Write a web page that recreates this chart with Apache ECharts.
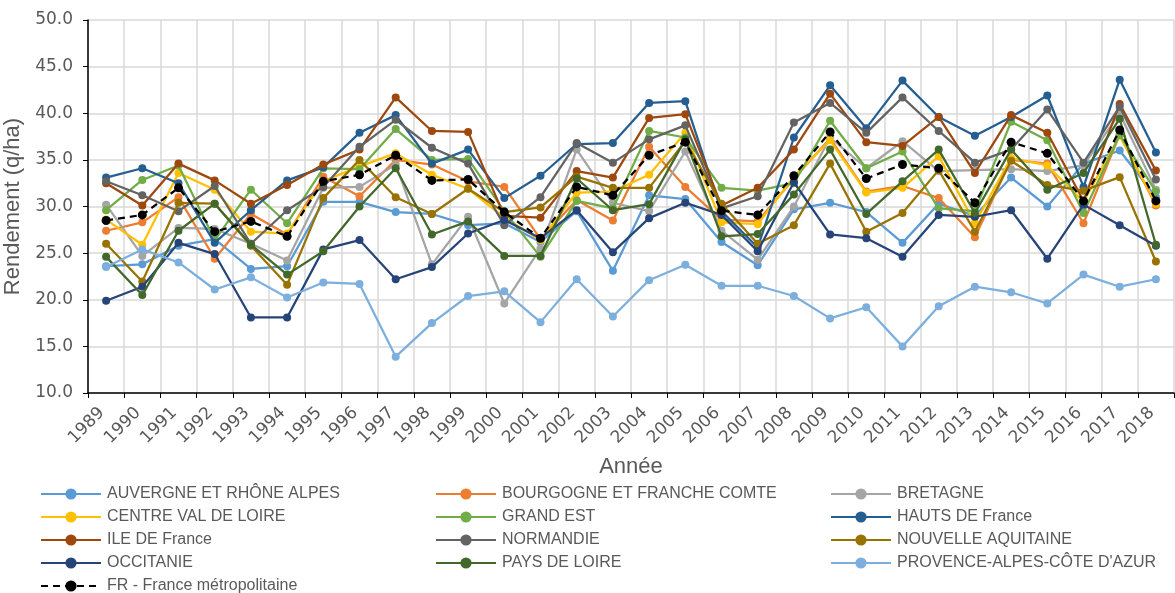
<!DOCTYPE html>
<html><head><meta charset="utf-8">
<script src="https://cdn.jsdelivr.net/npm/echarts@6/dist/echarts.min.js"></script>
<style>html,body{margin:0;padding:0;background:#fff}#c{width:1175px;height:593px}</style>
</head><body><div id="c"></div>
<script>
const years = ['1989','1990','1991','1992','1993','1994','1995','1996','1997','1998','1999','2000','2001','2002','2003','2004','2005','2006','2007','2008','2009','2010','2011','2012','2013','2014','2015','2016','2017','2018'];
const auvergne = [23.6,23.8,25.8,26.5,23.3,23.6,30.5,30.5,29.4,29.2,28.0,28.2,26.2,29.5,23.1,31.2,30.8,26.2,23.7,29.7,30.4,29.4,26.1,30.3,29.0,33.1,30.0,34.6,36.0,31.0];
const bourgogne = [27.4,28.3,31.0,24.4,29.2,27.0,33.2,31.1,35.0,34.5,32.7,32.1,26.5,30.7,28.5,36.4,32.1,28.6,28.4,33.0,37.3,31.6,32.2,30.9,26.7,35.0,34.6,28.2,37.7,30.1];
const bretagne = [30.2,24.7,27.7,27.6,26.0,24.2,32.0,32.1,34.5,23.8,28.9,19.6,25.5,36.1,30.4,29.5,35.9,27.4,24.3,30.0,37.4,34.1,37.0,33.8,33.9,34.0,33.8,34.4,40.0,31.8];
const centre = [28.6,25.9,33.6,31.8,27.3,27.1,32.7,34.3,35.7,33.4,31.9,28.8,26.4,31.5,31.6,33.4,37.9,28.3,28.1,33.2,37.1,31.5,32.0,35.4,28.2,35.2,34.4,30.5,37.6,30.3];
const grandEst = [29.6,32.85,34.4,26.4,31.8,28.2,34.1,34.0,38.3,35.0,35.1,29.5,24.6,30.6,29.8,38.1,37.4,32.0,31.7,32.5,39.2,34.1,35.9,29.8,29.5,39.1,37.1,29.3,37.7,31.6];
const hauts = [33.1,34.1,32.5,26.1,29.6,32.8,34.2,37.9,39.8,34.6,36.1,30.9,33.3,36.7,36.8,41.1,41.3,29.5,25.6,37.4,43.0,38.4,43.5,39.6,37.6,39.6,41.9,32.1,43.6,35.8];
const ile = [32.5,30.1,34.6,32.8,30.3,32.3,34.5,36.1,41.7,38.1,38.0,29.0,28.8,33.8,33.1,39.5,39.9,30.1,32.0,36.1,42.1,36.9,36.5,39.6,33.6,39.8,37.9,30.6,41.0,33.85];
const normandie = [32.7,31.2,29.5,32.2,26.0,29.6,32.1,36.4,39.3,36.3,34.6,28.0,31.0,36.8,34.7,37.2,38.7,29.8,31.1,39.0,41.1,37.9,41.7,38.1,34.7,36.1,40.4,34.7,40.7,32.9];
const nouvelle = [26.0,21.95,30.4,30.3,25.8,21.6,30.9,35.0,31.0,29.2,31.9,29.4,29.9,33.2,32.0,32.0,37.0,30.3,26.0,28.0,34.6,27.3,29.3,33.9,27.3,34.9,32.3,31.7,33.15,24.1];
const occitanie = [19.9,21.4,26.1,24.9,18.1,18.1,25.4,26.4,22.2,23.5,27.1,28.55,26.6,29.6,25.1,28.75,30.4,29.1,25.2,32.6,27.0,26.6,24.6,29.1,28.9,29.6,24.4,30.2,28.0,25.8];
const paysLoire = [24.6,20.5,27.4,30.3,25.9,22.7,25.2,30.0,34.1,27.0,28.4,24.7,24.7,33.0,29.6,30.25,37.2,26.8,27.05,31.3,36.1,29.2,32.7,36.1,29.3,36.1,31.8,33.6,39.4,25.9];
const provence = [23.5,25.4,24.0,21.1,22.4,20.25,21.85,21.7,13.9,17.5,20.4,20.9,17.6,22.2,18.2,22.1,23.75,21.5,21.5,20.4,18.0,19.2,15.0,19.3,21.4,20.8,19.6,22.7,21.4,22.2];
const france = [28.5,29.1,32.0,27.3,28.4,26.8,32.7,33.4,35.5,32.8,32.9,29.4,26.6,32.1,31.2,35.5,36.9,29.55,29.1,33.3,38.0,33.0,34.5,34.1,30.4,36.9,35.7,30.6,38.2,30.6];

const names = ['AUVERGNE ET RHÔNE ALPES','BOURGOGNE ET FRANCHE COMTE','BRETAGNE','CENTRE VAL DE LOIRE','GRAND EST','HAUTS DE France','ILE DE France','NORMANDIE','NOUVELLE AQUITAINE','OCCITANIE','PAYS DE LOIRE','PROVENCE-ALPES-CÔTE D\'AZUR','FR - France métropolitaine'];
const datas = [auvergne,bourgogne,bretagne,centre,grandEst,hauts,ile,normandie,nouvelle,occitanie,paysLoire,provence,france];
const colors = ['#5B9BD5','#ED7D31','#A5A5A5','#FFC000','#70AD47','#255E91','#9E480E','#636363','#997300','#264478','#43682B','#7CAFDD','#000000'];

const series = names.map((n,i)=>({
  name:n, type:'line', data:datas[i], symbol:'circle', symbolSize: i===12?9:8,
  lineStyle:{color:colors[i], width:2.25, type: i===12?[7,5]:'solid'},
  itemStyle:{color:colors[i]}, z: 2+i, animation:false
}));

const txt = '#595959';
const font = 'Liberation Sans, Arial, sans-serif';
const numFont = 'DejaVu Sans, sans-serif';
function leg(items, left, top){
  return {data:items, orient:'vertical', left:left, top:top, itemGap:7, itemWidth:60, itemHeight:14,
    textStyle:{color:txt, fontSize:16, fontFamily:font, padding:[0,0,0,1]}, selectedMode:false, padding:0};
}
const option = {
  animation:false,
  color: colors,
  grid:{left:88, right:1, top:20, bottom:200, containLabel:false, outerBoundsMode:'none'},
  xAxis:{type:'category', data:years, boundaryGap:true,
    name:'Année', nameLocation:'middle', nameGap:63, nameTextStyle:{color:txt, fontSize:22, fontFamily:font},
    axisLine:{lineStyle:{color:'#000', width:1.5}},
    axisTick:{show:true, alignWithLabel:false, length:5, lineStyle:{color:'#000'}},
    axisLabel:{rotate:45, color:txt, fontSize:17, fontFamily:numFont, margin:13, interval:0, padding:[0,6,0,0]},
    splitLine:{show:true, interval:0, lineStyle:{color:'#d9d9d9', width:1.5}}},
  yAxis:{type:'value', min:10, max:50, interval:5,
    name:'Rendement (q/ha)', nameLocation:'middle', nameGap:50, nameTextStyle:{color:txt, fontSize:22, fontFamily:font},
    axisLine:{show:true, lineStyle:{color:'#000', width:1.5}},
    axisTick:{show:true, length:5, lineStyle:{color:'#000'}},
    axisLabel:{color:txt, fontSize:17, fontFamily:numFont, formatter:v=>v.toFixed(1), margin:15},
    splitLine:{show:true, lineStyle:{color:'#d9d9d9', width:1.5}}},
  legend:[
    leg([names[0],names[3],names[6],names[9]], 40, 486),
    leg([names[12]], 40, 578),
    leg([names[1],names[4],names[7],names[10]], 435, 486),
    leg([names[2],names[5],names[8],names[11]], 830, 486)
  ],
  series: series
};
const chart = echarts.init(document.getElementById('c'), null, {renderer:'canvas'});
chart.setOption(option);
</script></body></html>
